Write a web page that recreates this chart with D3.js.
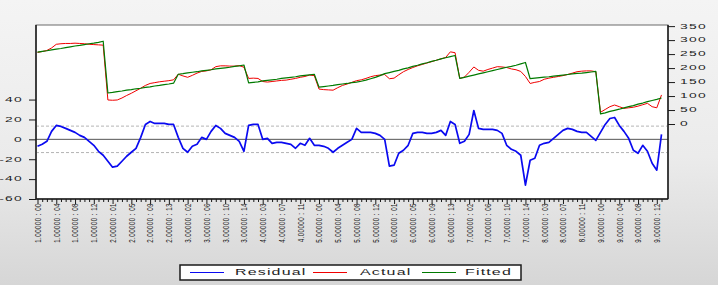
<!DOCTYPE html>
<html>
<head>
<meta charset="utf-8">
<script src="https://cdn.jsdelivr.net/npm/d3@7"></script>
<style>
  html, body { margin: 0; padding: 0; overflow: hidden; }
  body { width: 718px; height: 285px; font-family: "Liberation Sans", Arial, sans-serif; }
</style>
</head>
<body>
<div id="chart"></div>
<script>
// Residual / Actual / Fitted, 134 observations (9 groups of 15 periods).
// Residual on the left axis, actual and fitted on the right axis.

const residual = [
  -7, -5, -2, 8, 14, 13, 11, 9, 7, 4, 2, -2, -6, -12, -16,
  -22, -28, -27, -22, -17, -13, -9, 2, 15, 18, 16, 16, 16, 15, 15,
  2, -9, -13, -7, -5, 2, 0, 8, 14, 11, 6, 4, 2, -2, -12,
  14, 15, 15, 0, 1, -4, -3, -3, -4, -5, -9, -4, -6, 1, -6,
  -6, -7, -9, -13, -9, -6, -3, 0, 11, 7, 7, 7, 6, 4, 0,
  -27, -26, -14, -11, -6, 6, 7, 7, 6, 6, 7, 9, 4, 18, 15,
  -4, -2, 5, 29, 11, 10, 10, 10, 9, 6, -6, -10, -12, -16, -46,
  -21, -19, -6, -4, -3, 1, 5, 9, 11, 10, 8, 7, 7, 3, -1,
  7, 15, 21, 22, 14, 8, 1, -11, -14, -6, -12, -24, -31, 5
];

const actual = [
  256, 259, 263, 272, 285, 287, 288, 288, 289, 288, 287, 285, 284, 283, 282,
  86, 85, 86, 93, 102, 110, 119, 128, 138, 145, 148, 151, 153, 155, 158,
  178, 172, 167, 174, 182, 188, 190, 194, 205, 208, 208, 207, 207, 209, 203,
  163, 164, 163, 152, 150, 152, 154, 156, 157, 160, 163, 167, 170, 175, 173,
  125, 123, 122, 121, 130, 138, 143, 149, 155, 158, 163, 169, 173, 175, 177,
  162, 164, 176, 187, 195, 202, 208, 213, 218, 223, 228, 233, 238, 258, 255,
  163, 168, 185, 204, 192, 189, 195, 200, 205, 204, 202, 197, 194, 188, 170,
  145, 149, 152, 160, 164, 167, 170, 173, 177, 182, 187, 189, 190, 190, 187,
  42, 52, 62, 68, 62, 56, 58, 60, 64, 69, 74, 62, 58, 104
];

const fitted = [
  257, 260, 262, 265, 268, 270, 273, 276, 279, 281, 284, 287, 289, 292, 296,
  111, 113, 116, 118, 121, 123, 126, 128, 131, 133, 136, 138, 141, 143, 146,
  178, 180, 183, 185, 187, 190, 192, 194, 197, 199, 201, 203, 206, 208, 211,
  147, 149, 151, 154, 156, 158, 160, 163, 165, 167, 169, 172, 174, 176, 178,
  132, 134, 136, 138, 141, 143, 145, 148, 150, 153, 157, 162, 167, 173, 180,
  184, 188, 192, 197, 201, 206, 210, 215, 219, 224, 228, 233, 237, 241, 245,
  163, 167, 171, 175, 179, 183, 187, 191, 195, 199, 203, 206, 210, 215, 220,
  162, 164, 166, 168, 169, 171, 173, 175, 177, 179, 181, 182, 184, 186, 188,
  36, 40, 45, 49, 53, 58, 62, 66, 71, 75, 80, 84, 88, 93
];

// one label every 4th observation
const tickLabels = [
  "1.00000 : 00", "1.00000 : 04", "1.00000 : 08", "1.00000 : 12",
  "2.00000 : 01", "2.00000 : 05", "2.00000 : 09", "2.00000 : 13",
  "3.00000 : 02", "3.00000 : 06", "3.00000 : 10", "3.00000 : 14",
  "4.00000 : 03", "4.00000 : 07", "4.00000 : 11",
  "5.00000 : 00", "5.00000 : 04", "5.00000 : 08", "5.00000 : 12",
  "6.00000 : 01", "6.00000 : 05", "6.00000 : 09", "6.00000 : 13",
  "7.00000 : 02", "7.00000 : 06", "7.00000 : 10", "7.00000 : 14",
  "8.00000 : 03", "8.00000 : 07", "8.00000 : 11",
  "9.00000 : 00", "9.00000 : 04", "9.00000 : 08", "9.00000 : 12"
];
const labelEvery = 4;

const leftTicks = [-60, -40, -20, 0, 20, 40];
const rightTicks = [0, 50, 100, 150, 200, 250, 300, 350];
const residualSE = 13.3;

const series = [
  { name: "Residual", values: residual, color: "#0a0af0", width: 1.7, axis: "left" },
  { name: "Actual", values: actual, color: "#f00000", width: 1, axis: "right" },
  { name: "Fitted", values: fitted, color: "#007a00", width: 1.2, axis: "right" },
];

const W = 718, H = 285;
const PLOT = { left: 36, right: 668, top: 25, bottom: 199 };
const INK = "#1a1a1a";
const FONT = '"Liberation Sans", Arial, sans-serif';

const svg = d3.select("#chart").append("svg")
  .attr("width", W).attr("height", H)
  .style("display", "block");

const defs = svg.append("defs");
const bg = defs.append("linearGradient").attr("id", "bg")
  .attr("x1", 0).attr("y1", 0).attr("x2", 0).attr("y2", 1);
bg.append("stop").attr("offset", "0%").attr("stop-color", "#f4f4f4");
bg.append("stop").attr("offset", "55%").attr("stop-color", "#ebebeb");
bg.append("stop").attr("offset", "100%").attr("stop-color", "#d6d6d6");

svg.append("rect").attr("width", W).attr("height", H).attr("fill", "url(#bg)");

svg.append("rect")
  .attr("x", PLOT.left).attr("y", PLOT.top)
  .attr("width", PLOT.right - PLOT.left).attr("height", PLOT.bottom - PLOT.top)
  .attr("fill", "#fff")
  .attr("stroke", "#6a6a6a").attr("stroke-width", 1);

const x = d3.scaleLinear().domain([0, residual.length - 1]).range([37.5, 661.5]);
const yL = d3.scaleLinear().domain([-60, 115]).range([PLOT.bottom, PLOT.top]);
const yR = d3.scaleLinear().domain([-268, 354]).range([PLOT.bottom, PLOT.top]);

// the picture is stretched sideways, so the text is too
function wideText(g, px, py, str, opt) {
  return g.append("text")
    .attr("transform", `translate(${px},${py}) scale(${opt.sx},1)` + (opt.rotate ? " rotate(-90)" : ""))
    .attr("text-anchor", opt.anchor || "start")
    .attr("dy", "0.36em")
    .attr("fill", opt.fill || "#1e1e1e")
    .style("font-family", FONT)
    .style("font-size", opt.size + "px")
    .style("letter-spacing", (opt.ls || 0) + "px")
    .text(str);
}

// zero line and +/- one standard error
svg.append("line")
  .attr("x1", PLOT.left).attr("x2", PLOT.right)
  .attr("y1", yL(0)).attr("y2", yL(0))
  .attr("stroke", "#555").attr("stroke-width", 1);

svg.selectAll("line.se")
  .data([residualSE, -residualSE])
  .join("line")
  .attr("class", "se")
  .attr("x1", PLOT.left).attr("x2", PLOT.right)
  .attr("y1", (d) => yL(d)).attr("y2", (d) => yL(d))
  .attr("stroke", "#b4b4b4").attr("stroke-width", 1)
  .attr("stroke-dasharray", "3,2");

series.forEach((s) => {
  const yScale = s.axis === "left" ? yL : yR;
  const line = d3.line().x((d, i) => x(i)).y((d) => yScale(d));
  svg.append("path")
    .datum(s.values)
    .attr("d", line)
    .attr("fill", "none")
    .attr("stroke", s.color)
    .attr("stroke-width", s.width)
    .attr("stroke-linejoin", "round");
});

// axes
const axisLeft = svg.append("g")
  .attr("transform", `translate(${PLOT.left},0)`)
  .call(d3.axisLeft(yL).tickValues(leftTicks).tickSize(7).tickFormat(""));
axisLeft.select(".domain").remove();
axisLeft.selectAll(".tick line").attr("stroke", INK);

const axisRight = svg.append("g")
  .attr("transform", `translate(${PLOT.right},0)`)
  .call(d3.axisRight(yR).tickValues(rightTicks).tickSize(7).tickFormat(""));
axisRight.select(".domain").remove();
axisRight.selectAll(".tick line").attr("stroke", INK);

const obsTicks = d3.range(residual.length);
const axisBottom = svg.append("g")
  .attr("transform", `translate(0,${PLOT.bottom})`)
  .call(d3.axisBottom(x).tickValues(obsTicks).tickSize(3).tickFormat(""));
axisBottom.select(".domain").remove();
axisBottom.selectAll(".tick line")
  .attr("stroke", INK)
  .attr("y2", (d) => (d % labelEvery === 0 ? 5 : 3));

[[PLOT.left, PLOT.top, PLOT.left, PLOT.bottom],
 [PLOT.right, PLOT.top, PLOT.right, PLOT.bottom],
 [PLOT.left, PLOT.bottom, PLOT.right, PLOT.bottom]].forEach(([a, b, c, d]) => {
  svg.append("line")
    .attr("x1", a).attr("y1", b).attr("x2", c).attr("y2", d)
    .attr("stroke", INK).attr("stroke-width", 1.5);
});

const textLayer = svg.append("g");
leftTicks.forEach((v) => {
  wideText(textLayer, 23, yL(v), String(v), { sx: 2.1, size: 6.6, anchor: "end", ls: 0.6 });
});
rightTicks.forEach((v) => {
  wideText(textLayer, 680, yR(v), String(v), { sx: 2.1, size: 6.6, ls: 0.6 });
});
tickLabels.forEach((lab, k) => {
  wideText(textLayer, x(k * labelEvery), 203, lab, { sx: 1.5, size: 6.2, anchor: "end", rotate: true, ls: 0.45 });
});

// legend
const legend = svg.append("g");
legend.append("rect")
  .attr("x", 180).attr("y", 265).attr("width", 341).attr("height", 15)
  .attr("fill", "#fff").attr("stroke", INK).attr("stroke-width", 1.5);
const legendX = [{ line: 190, text: 235 }, { line: 313, text: 360 }, { line: 422, text: 465 }];
series.forEach((s, i) => {
  legend.append("line")
    .attr("x1", legendX[i].line).attr("x2", legendX[i].line + 34)
    .attr("y1", 272.5).attr("y2", 272.5)
    .attr("stroke", s.color).attr("stroke-width", 1.2);
  wideText(legend, legendX[i].text, 272.5, s.name, { sx: 1.95, size: 8.2, ls: 0.6 });
});
</script>
</body>
</html>
